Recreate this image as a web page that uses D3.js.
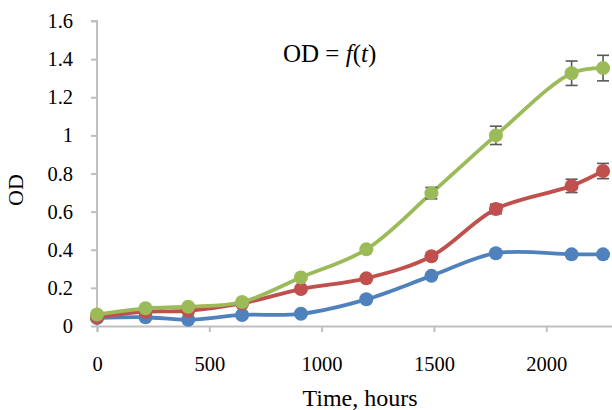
<!DOCTYPE html>
<html>
<head>
<meta charset="utf-8">
<script src="https://cdn.jsdelivr.net/npm/d3@7"></script>
<style>
  body { margin: 0; background: #fff; }
  svg { font-family: "Liberation Serif", "Times New Roman", serif; }
</style>
</head>
<body>
<div class="chart"></div>
<script>
// Data.
var hours = [0, 216, 406, 646, 908, 1199, 1489, 1776, 2113, 2253];
var blueOD = [0.042, 0.046, 0.033, 0.058, 0.064, 0.14, 0.263, 0.382, 0.376, 0.376];
var redOD = [0.045, 0.075, 0.08, 0.118, 0.194, 0.25, 0.366, 0.614, 0.735, 0.813];
var greenOD = [0.06, 0.093, 0.101, 0.126, 0.255, 0.402, 0.697, 1.0, 1.326, 1.353];
var blueErr = [0, 0, 0, 0, 0, 0, 0, 0, 0, 0];
var redErr = [0, 0, 0, 0, 0, 0, 0, 0.025, 0.035, 0.04];
var greenErr = [0, 0, 0, 0, 0, 0, 0.03, 0.048, 0.064, 0.067];
var xTicks = [0, 500, 1000, 1500, 2000];
var yTicks = [0, 0.2, 0.4, 0.6, 0.8, 1, 1.2, 1.4, 1.6];
var yTickLabels = ["0", "0.2", "0.4", "0.6", "0.8", "1", "1.2", "1.4", "1.6"];

var w = 612,
    h = 410;

var svg = d3.select(".chart").append("svg")
  .attr("width", w)
  .attr("height", h);

var xScale = d3.scaleLinear()
  .domain([0, 2300])
  .range([97, 613.6]);

var yScale = d3.scaleLinear()
  .domain([0, 1.6])
  .range([326, 21]);

var axisColor = "#bfbfbf";

// Axes
var xAxis = d3.axisBottom(xScale)
  .tickValues(xTicks)
  .tickSize(6)
  .tickPadding(24)
  .tickFormat(d3.format("d"));

var yAxis = d3.axisLeft(yScale)
  .tickValues(yTicks)
  .tickSize(6)
  .tickPadding(18)
  .tickFormat(function(d, i) { return yTickLabels[i]; });

var gx = svg.append("g")
  .attr("transform", "translate(0," + yScale(0) + ")")
  .call(xAxis);

var gy = svg.append("g")
  .attr("transform", "translate(" + xScale(0) + ",0)")
  .call(yAxis);

[gx, gy].forEach(function(g) {
  g.select(".domain").attr("stroke", axisColor).attr("stroke-width", 2);
  g.selectAll(".tick line").attr("stroke", axisColor).attr("stroke-width", 2);
  g.selectAll(".tick text")
    .attr("fill", "#000")
    .style("font-size", "20.5px")
    .style("font-family", "Liberation Serif, serif");
});
gy.select(".domain").attr("d", "M-6," + yScale(1.6) + "H0V" + yScale(0));

// Series
var series = [
  { name: "blue", color: "#4f81bd", values: blueOD, err: blueErr },
  { name: "red", color: "#c0504d", values: redOD, err: redErr },
  { name: "green", color: "#9bbb59", values: greenOD, err: greenErr }
];

var line = d3.line()
  .x(function(d) { return xScale(d[0]); })
  .y(function(d) { return yScale(d[1]); })
  .curve(d3.curveCatmullRom.alpha(0.5));

series.forEach(function(s) {
  var pts = hours.map(function(t, i) { return [t, s.values[i], s.err[i]]; });

  svg.append("path")
    .datum(pts)
    .attr("d", line)
    .attr("fill", "none")
    .attr("stroke", s.color)
    .attr("stroke-width", 3.8);

  // Error bars
  var eb = svg.append("g")
    .attr("stroke", "#595959")
    .attr("stroke-width", 1.6);
  pts.filter(function(d) { return d[2] > 0; }).forEach(function(d) {
    var x = xScale(d[0]),
        y1 = yScale(d[1] + d[2]),
        y2 = yScale(d[1] - d[2]);
    eb.append("line").attr("x1", x).attr("x2", x).attr("y1", y1).attr("y2", y2);
    eb.append("line").attr("x1", x - 6).attr("x2", x + 6).attr("y1", y1).attr("y2", y1);
    eb.append("line").attr("x1", x - 6).attr("x2", x + 6).attr("y1", y2).attr("y2", y2);
  });

  svg.append("g").selectAll("circle")
    .data(pts)
    .enter()
    .append("circle")
    .attr("cx", function(d) { return xScale(d[0]); })
    .attr("cy", function(d) { return yScale(d[1]); })
    .attr("r", 7)
    .attr("fill", s.color);
});

// Labels
svg.append("text")
  .attr("x", 360)
  .attr("y", 406)
  .style("text-anchor", "middle")
  .style("font-size", "24px")
  .text("Time, hours");

svg.append("text")
  .attr("transform", "translate(23,190) rotate(-90)")
  .style("text-anchor", "middle")
  .style("font-size", "22px")
  .text("OD");

var title = svg.append("text")
  .attr("x", 283)
  .attr("y", 62)
  .style("font-size", "25px");
title.append("tspan").text("OD = ");
title.append("tspan").style("font-style", "italic").text("f");
title.append("tspan").text("(");
title.append("tspan").style("font-style", "italic").text("t");
title.append("tspan").text(")");
</script>
</body>
</html>
